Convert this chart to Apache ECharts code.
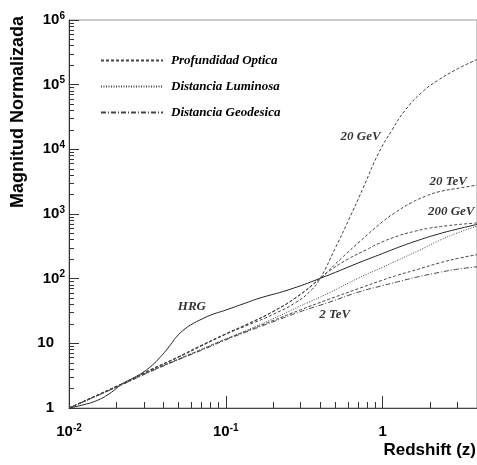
<!DOCTYPE html>
<html>
<head>
<meta charset="utf-8">
<script src="https://cdn.jsdelivr.net/npm/echarts@6/dist/echarts.min.js"></script>
<style>
html,body{margin:0;padding:0;background:#fff;}
#chart{width:477px;height:465px;}
</style>
</head>
<body>
<div id="chart"></div>
<script>
// ---- data (redshift z, normalized magnitude) ----
const hrg = [[0.01,1],[0.0125,1.13],[0.015,1.3],[0.018,1.65],[0.0221,2.4],[0.026,2.95],[0.0296,3.55],[0.034,4.6],[0.0379,6.0],[0.0417,7.8],[0.0455,10.3],[0.0483,12.5],[0.055,16.8],[0.062,20.3],[0.068,22.8],[0.08,27.3],[0.1,32.7],[0.13,41],[0.163,49.7],[0.25,67],[0.4,101],[0.7,175],[1.0,245],[1.26,305],[1.69,392],[2.27,490],[3.0,585],[4.0,690]];

const od20GeV = [[0.01,1],[0.0221,2.4],[0.0327,3.8],[0.05,6.1],[0.07,9.1],[0.1,13.8],[0.141,19.5],[0.2,28],[0.28,43],[0.35,66],[0.4,101],[0.5,300],[0.608,810],[0.75,2500],[0.944,8800],[1.15,20000],[1.39,40000],[1.8,78000],[2.27,118000],[3.0,175000],[4.0,245000]];

const od200GeV = [[0.01,1],[0.0221,2.41],[0.0327,3.85],[0.05,6.2],[0.07,9.3],[0.1,14],[0.141,20.4],[0.2,31],[0.28,51],[0.4,101],[0.454,130],[0.6,200],[0.8,285],[0.944,350],[1.26,460],[1.6,540],[1.96,600],[2.6,660],[3.3,700],[4.0,728]];

const od20TeV = [[0.01,1],[0.0221,2.41],[0.0327,3.85],[0.05,6.2],[0.07,9.3],[0.1,14],[0.141,20.4],[0.2,31],[0.28,51],[0.4,101],[0.55,210],[0.736,400],[1.0,760],[1.2,1050],[1.53,1500],[1.9,1900],[2.27,2200],[3.18,2550],[4.0,2800]];

const od2TeV = [[0.01,1],[0.0221,2.35],[0.0327,3.65],[0.05,5.7],[0.07,8.0],[0.1,11.6],[0.141,16.1],[0.2,22.5],[0.3,33],[0.454,48],[0.7,70],[1.0,95],[1.26,114],[1.69,140],[2.3,175],[3.0,205],[4.0,235]];

const distLuminosa = [[0.01,1],[0.0221,2.35],[0.0327,3.7],[0.05,5.7],[0.07,8.1],[0.1,11.7],[0.141,16.5],[0.2,24],[0.3,38],[0.454,60],[0.7,102],[1.0,150],[1.26,195],[1.69,270],[2.3,390],[3.0,510],[4.0,650]];

const distGeodesica = [[0.01,1],[0.0221,2.33],[0.0327,3.6],[0.05,5.6],[0.07,7.8],[0.1,11.3],[0.141,15.6],[0.2,21.5],[0.3,31],[0.454,43],[0.7,62],[1.0,78],[1.26,90],[1.69,107],[2.3,125],[3.0,140],[4.0,153]];

const curveLabels = [
  ['20 GeV', 0.724, 15500],
  ['20 TeV', 2.62, 3150],
  ['200 GeV', 2.74, 1085],
  ['HRG', 0.0608, 36.8],
  ['2 TeV', 0.495, 27.4]
];

const legendNames = ['Profundidad Optica', 'Distancia Luminosa', 'Distancia Geodesica'];

const xMajor = [0.01, 0.1, 1];
const xMajorLabels = [['10','-2'], ['10','-1'], ['1','']];
const xMinor = [0.02,0.03,0.04,0.05,0.06,0.07,0.08,0.09,0.2,0.3,0.4,0.5,0.6,0.7,0.8,0.9,2,3,4];
const yMajor = [1, 10, 100, 1000, 10000, 100000, 1000000];
const yMajorLabels = [['1',''], ['10',''], ['10','2'], ['10','3'], ['10','4'], ['10','5'], ['10','6']];
const yMinor = [];
for (let d = 1; d < 1000000; d *= 10) for (let m = 2; m <= 9; m++) yMinor.push(m * d);

// ---- styles ----
const SANS = '"Liberation Sans", Arial, sans-serif';
const SERIF = '"Liberation Serif", "Times New Roman", serif';
const DASH = [3, 2];
const DOT = [1, 1.5];
const DASHDOT = [5, 2, 1, 2];

function lineSeries(name, data, type, color) {
  return {
    type: 'line', name: name, data: data,
    symbol: 'none', showSymbol: false,
    smooth: 0.5,
    xAxisIndex: 0, yAxisIndex: 0,
    lineStyle: { color: color, width: 1, type: type },
    itemStyle: { color: color },
    silent: true
  };
}

const richLabel = {
  b: { fontFamily: SANS, fontWeight: 'bold', fontSize: 15, lineHeight: 18, color: '#000' },
  e: { fontFamily: SANS, fontWeight: 'bold', fontSize: 10, lineHeight: 10, verticalAlign: 'top', color: '#000' },
  s: { fontSize: 10, width: 11 }
};

function fmt(values, labels, pad) {
  return function (v) {
    let i = -1;
    for (let k = 0; k < values.length; k++) if (Math.abs(values[k] - v) / values[k] < 1e-6) i = k;
    if (i < 0) return '';
    const l = labels[i];
    if (l[1] === '') return '{b|' + l[0] + '}' + (pad ? '{s| }' : '');
    return '{b|' + l[0] + '}{e|' + l[1] + '}';
  };
}

const chart = echarts.init(document.getElementById('chart'), null, { renderer: 'canvas' });

const option = {
  animation: false,
  backgroundColor: '#fff',
  grid: { left: 69, top: 20, width: 410, height: 388, show: true, borderColor: '#999', borderWidth: 1, containLabel: false },
  legend: {
    data: legendNames,
    orient: 'vertical',
    left: 100, top: 54, padding: 0,
    itemWidth: 62, itemHeight: 14, itemGap: 13,
    selectedMode: false,
    itemStyle: { opacity: 0 },
    textStyle: { fontFamily: SERIF, fontStyle: 'italic', fontWeight: 'bold', fontSize: 13, color: '#000', padding: [0, 0, 0, 3] }
  },
  xAxis: [
    {
      type: 'log', logBase: 10, min: 0.01, max: 4, position: 'bottom', gridIndex: 0,
      axisLine: { show: true, lineStyle: { color: '#444', width: 1 } },
      axisTick: { show: true, inside: true, length: 12, customValues: xMajor, lineStyle: { color: '#333' } },
      axisLabel: { show: true, customValues: xMajor, margin: 15, formatter: fmt(xMajor, xMajorLabels, false), rich: richLabel },
      splitLine: { show: false }, minorTick: { show: false }
    },
    {
      type: 'log', logBase: 10, min: 0.01, max: 4, position: 'bottom', gridIndex: 0,
      axisLine: { show: false },
      axisTick: { show: true, inside: true, length: 6, customValues: xMinor, lineStyle: { color: '#333' } },
      axisLabel: { show: false },
      splitLine: { show: false }
    }
  ],
  yAxis: [
    {
      type: 'log', logBase: 10, min: 1, max: 1000000, position: 'left', gridIndex: 0,
      axisLine: { show: true, lineStyle: { color: '#333', width: 1 } },
      axisTick: { show: true, inside: true, length: 10, customValues: yMajor, lineStyle: { color: '#333' } },
      axisLabel: { show: true, customValues: yMajor, margin: 4, formatter: fmt(yMajor, yMajorLabels, true), rich: richLabel },
      splitLine: { show: false }, minorTick: { show: false }
    },
    {
      type: 'log', logBase: 10, min: 1, max: 1000000, position: 'left', gridIndex: 0,
      axisLine: { show: false },
      axisTick: { show: true, inside: true, length: 5, customValues: yMinor, lineStyle: { color: '#333' } },
      axisLabel: { show: false },
      splitLine: { show: false }
    }
  ],
  graphic: [
    {
      type: 'text', x: 18, y: 16, rotation: Math.PI / 2,
      style: { text: 'Magnitud Normalizada', font: 'bold 18px ' + SANS, fill: '#000', align: 'right', verticalAlign: 'middle', textAlign: 'right', textVerticalAlign: 'middle' }
    },
    {
      type: 'text', x: 476, y: 450,
      style: { text: 'Redshift (z)', font: 'bold 17px ' + SANS, fill: '#000', align: 'right', verticalAlign: 'middle', textAlign: 'right', textVerticalAlign: 'middle' }
    }
  ],
  series: [
    lineSeries('HRG', hrg, 'solid', '#222'),
    lineSeries('Profundidad Optica', od20GeV, DASH, '#444'),
    lineSeries('Distancia Luminosa', distLuminosa, DOT, '#444'),
    lineSeries('Distancia Geodesica', distGeodesica, DASHDOT, '#444'),
    lineSeries('Profundidad Optica', od200GeV, DASH, '#444'),
    lineSeries('Profundidad Optica', od20TeV, DASH, '#444'),
    lineSeries('Profundidad Optica', od2TeV, DASH, '#444'),
    {
      type: 'scatter', name: 'labels', xAxisIndex: 0, yAxisIndex: 0,
      data: curveLabels.map(function (c) { return [c[1], c[2], c[0]]; }),
      symbolSize: 0, silent: true,
      label: {
        show: true, position: 'inside',
        formatter: function (p) { return p.value[2]; },
        fontFamily: SERIF, fontStyle: 'italic', fontWeight: 'bold', fontSize: 13, color: '#000'
      }
    }
  ]
};

chart.setOption(option);
</script>
</body>
</html>
